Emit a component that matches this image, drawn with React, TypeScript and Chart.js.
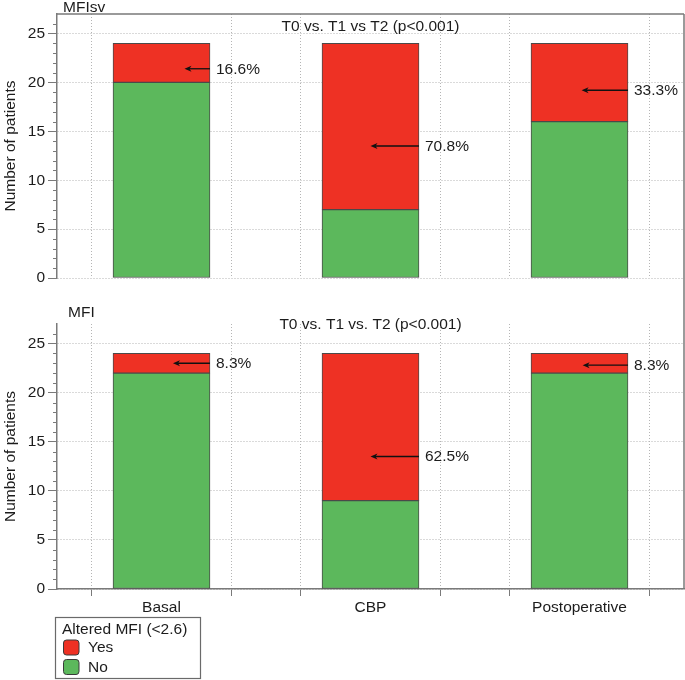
import React, { useEffect, useRef } from 'react';
import { Chart, registerables } from 'chart.js';

Chart.register(...registerables);

// ---------- data ----------
const categories = ['Basal', 'CBP', 'Postoperative'];
const categoryPositions = [1, 2, 3];
const gridPositions = [2 / 3, 4 / 3, 5 / 3, 7 / 3, 8 / 3, 10 / 3];
const yTicks = [0, 5, 10, 15, 20, 25];
const yMax = 27;

const mfisvNo = [20, 7, 16];
const mfisvYes = [4, 17, 8];
const mfisvPercent = ['16.6%', '70.8%', '33.3%'];
const mfisvArrowY = [21.4, 13.5, 19.2];
const mfisvArrowTipX = [1.11, 2.0, 3.01];

const mfiNo = [22, 9, 22];
const mfiYes = [2, 15, 2];
const mfiPercent = ['8.3%', '62.5%', '8.3%'];
const mfiArrowY = [23.0, 13.5, 22.8];
const mfiArrowTipX = [1.055, 2.0, 3.015];

const legendTitle = 'Altered MFI (<2.6)';
const yTitle = 'Number of patients';

// ---------- styles ----------
const FONT = '"Liberation Sans", Arial, Helvetica, sans-serif';
const FSIZE = 15.5;
const COLORS = {
  yes: '#EE3124',
  no: '#5CB85C',
  barBorder: '#4a4a4a',
  grid: '#b5b5b5',
  axis: '#7a7a7a',
  text: '#1c1c1c',
};

const xTickValues = [...categoryPositions, ...gridPositions].sort((a, b) => a - b);

type Panel = {
  no: number[];
  yes: number[];
  title: string;
  subtitle: string;
  percents: string[];
  arrowY: number[];
  arrowTipX: number[];
  showX: boolean;
  height: number;
  padTop: number;
  xHeight: number;
  titleX: number;
  titleY: number;
  subtitleY: number;
  legend: boolean;
};

const topPanel: Panel = {
  no: mfisvNo,
  yes: mfisvYes,
  title: 'MFIsv',
  subtitle: 'T0 vs. T1 vs T2 (p<0.001)',
  percents: mfisvPercent,
  arrowY: mfisvArrowY,
  arrowTipX: mfisvArrowTipX,
  showX: false,
  height: 300,
  padTop: 14,
  xHeight: 22,
  titleX: 63,
  titleY: 7.5,
  subtitleY: 27,
  legend: false,
};

const bottomPanel: Panel = {
  no: mfiNo,
  yes: mfiYes,
  title: 'MFI',
  subtitle: 'T0 vs. T1 vs. T2 (p<0.001)',
  percents: mfiPercent,
  arrowY: mfiArrowY,
  arrowTipX: mfiArrowTipX,
  showX: true,
  height: 380,
  padTop: 24,
  xHeight: 91,
  titleX: 68,
  titleY: 13,
  subtitleY: 25,
  legend: true,
};

const isCenter = (v: number) => categoryPositions.some((c) => Math.abs(c - v) < 1e-6);

function roundRect(ctx: CanvasRenderingContext2D, x: number, y: number, w: number, h: number, r: number) {
  ctx.beginPath();
  ctx.moveTo(x + r, y);
  ctx.lineTo(x + w - r, y);
  ctx.quadraticCurveTo(x + w, y, x + w, y + r);
  ctx.lineTo(x + w, y + h - r);
  ctx.quadraticCurveTo(x + w, y + h, x + w - r, y + h);
  ctx.lineTo(x + r, y + h);
  ctx.quadraticCurveTo(x, y + h, x, y + h - r);
  ctx.lineTo(x, y + r);
  ctx.quadraticCurveTo(x, y, x + r, y);
  ctx.closePath();
}

function decorPlugin(p: Panel) {
  return {
    id: 'decor',
    afterDraw(chart: any) {
      const { ctx, chartArea, scales } = chart;
      const { left, right, top, bottom } = chartArea;
      const x = scales.x;
      const y = scales.y;
      ctx.save();

      // minor y ticks
      ctx.strokeStyle = COLORS.axis;
      ctx.lineWidth = 1;
      for (let v = 1; v < yMax; v++) {
        if (v % 5 === 0) continue;
        const py = Math.round(y.getPixelForValue(v)) + 0.5;
        ctx.beginPath();
        ctx.moveTo(left - 4, py);
        ctx.lineTo(left, py);
        ctx.stroke();
      }

      // frame
      ctx.strokeStyle = COLORS.axis;
      ctx.lineWidth = 1.5;
      ctx.beginPath();
      if (!p.showX) {
        ctx.moveTo(left, top);
        ctx.lineTo(right, top);
        ctx.moveTo(right, top);
        ctx.lineTo(right, chart.height);
      } else {
        ctx.moveTo(right, 0);
        ctx.lineTo(right, bottom);
      }
      ctx.stroke();

      // titles
      ctx.fillStyle = COLORS.text;
      ctx.font = `${FSIZE}px ${FONT}`;
      ctx.textBaseline = 'middle';
      ctx.textAlign = 'left';
      ctx.fillText(p.title, p.titleX, p.titleY);
      ctx.textAlign = 'center';
      ctx.fillText(p.subtitle, (x.getPixelForValue(categoryPositions[0]) + x.getPixelForValue(categoryPositions[2])) / 2, p.subtitleY);

      // annotations (arrows + percentages)
      const meta = chart.getDatasetMeta(1);
      ctx.textAlign = 'left';
      for (let i = 0; i < categories.length; i++) {
        const bar = meta.data[i];
        const barRight = bar.x + bar.width / 2;
        const ay = y.getPixelForValue(p.arrowY[i]);
        const tip = x.getPixelForValue(p.arrowTipX[i]);
        ctx.strokeStyle = '#111';
        ctx.fillStyle = '#111';
        ctx.lineWidth = 1.3;
        ctx.beginPath();
        ctx.moveTo(barRight, ay);
        ctx.lineTo(tip + 4, ay);
        ctx.stroke();
        ctx.beginPath();
        ctx.moveTo(tip, ay);
        ctx.lineTo(tip + 7, ay - 3);
        ctx.lineTo(tip + 5, ay);
        ctx.lineTo(tip + 7, ay + 3);
        ctx.closePath();
        ctx.fill();
        ctx.fillStyle = COLORS.text;
        ctx.fillText(p.percents[i], barRight + 6, ay + 0.5);
      }

      // legend
      if (p.legend) {
        const bx = 55.5;
        const by = 317.5;
        const bw = 145;
        const bh = 61;
        ctx.strokeStyle = '#6a6a6a';
        ctx.lineWidth = 1.2;
        ctx.strokeRect(bx, by, bw, bh);
        ctx.fillStyle = COLORS.text;
        ctx.textAlign = 'left';
        ctx.fillText(legendTitle, 62, 329.5);
        const items = [...chart.data.datasets].reverse();
        items.forEach((ds: any, k: number) => {
          const sy = 340 + k * 19.5;
          roundRect(ctx, 63.5, sy, 15.5, 15, 3);
          ctx.fillStyle = ds.backgroundColor;
          ctx.fill();
          ctx.strokeStyle = '#3a3a3a';
          ctx.lineWidth = 1;
          ctx.stroke();
          ctx.fillStyle = COLORS.text;
          ctx.fillText(ds.label, 88, sy + 8);
        });
      }
      ctx.restore();
    },
  };
}

function buildConfig(p: Panel): any {
  const font = { family: FONT, size: FSIZE };
  const barStyle = {
    borderColor: COLORS.barBorder,
    borderWidth: 1,
    borderSkipped: false,
    barThickness: 97,
  };
  return {
    type: 'bar',
    data: {
      datasets: [
        {
          label: 'No',
          data: p.no.map((v, i) => ({ x: categoryPositions[i], y: v })),
          backgroundColor: COLORS.no,
          ...barStyle,
        },
        {
          label: 'Yes',
          data: p.yes.map((v, i) => ({ x: categoryPositions[i], y: v })),
          backgroundColor: COLORS.yes,
          ...barStyle,
        },
      ],
    },
    options: {
      animation: false,
      responsive: false,
      maintainAspectRatio: false,
      devicePixelRatio: 1,
      layout: { padding: { top: p.padTop, right: 1, left: 0, bottom: 0 } },
      plugins: { legend: { display: false }, tooltip: { enabled: false } },
      scales: {
        x: {
          type: 'linear',
          min: 0.5,
          max: 3.5,
          offset: false,
          stacked: true,
          afterBuildTicks: (s: any) => {
            s.ticks = xTickValues.map((v) => ({ value: v }));
          },
          afterFit: (s: any) => {
            s.height = p.xHeight;
          },
          ticks: {
            display: p.showX,
            autoSkip: false,
            maxRotation: 0,
            minRotation: 0,
            padding: 2,
            color: COLORS.text,
            font,
            callback: (v: number) => {
              const idx = categoryPositions.findIndex((c) => Math.abs(c - v) < 1e-6);
              return idx >= 0 ? categories[idx] : '';
            },
          },
          grid: {
            offset: false,
            color: (ctx: any) => (ctx.tick && isCenter(ctx.tick.value) ? 'rgba(0,0,0,0)' : COLORS.grid),
            tickColor: (ctx: any) => (ctx.tick && isCenter(ctx.tick.value) ? 'rgba(0,0,0,0)' : COLORS.axis),
            drawTicks: p.showX,
            tickLength: 7,
            lineWidth: 1,
          },
          border: { display: p.showX, color: COLORS.axis, width: 1.5, dash: [1, 2] },
        },
        y: {
          type: 'linear',
          min: 0,
          max: yMax,
          stacked: true,
          afterBuildTicks: (s: any) => {
            s.ticks = yTicks.map((v) => ({ value: v }));
          },
          afterFit: (s: any) => {
            s.width = 57;
          },
          ticks: { color: COLORS.text, font, padding: 3 },
          grid: { color: COLORS.grid, tickColor: COLORS.axis, tickLength: 9, lineWidth: 1 },
          border: { color: COLORS.axis, width: 1.5, dash: [1, 2] },
          title: {
            display: true,
            text: yTitle,
            color: COLORS.text,
            font,
            padding: { top: 1, bottom: 0 },
          },
        },
      },
    },
    plugins: [decorPlugin(p)],
  };
}

export default function App() {
  const topRef = useRef<HTMLCanvasElement>(null);
  const botRef = useRef<HTMLCanvasElement>(null);
  useEffect(() => {
    const c1 = new Chart(topRef.current!, buildConfig(topPanel));
    const c2 = new Chart(botRef.current!, buildConfig(bottomPanel));
    return () => {
      c1.destroy();
      c2.destroy();
    };
  }, []);
  return (
    <div style={{ position: 'absolute', left: 0, top: 0, width: 685, height: 680, background: '#fff' }}>
      <canvas ref={topRef} width={685} height={topPanel.height} style={{ display: 'block', width: 685, height: topPanel.height }} />
      <canvas ref={botRef} width={685} height={bottomPanel.height} style={{ display: 'block', width: 685, height: bottomPanel.height }} />
    </div>
  );
}
